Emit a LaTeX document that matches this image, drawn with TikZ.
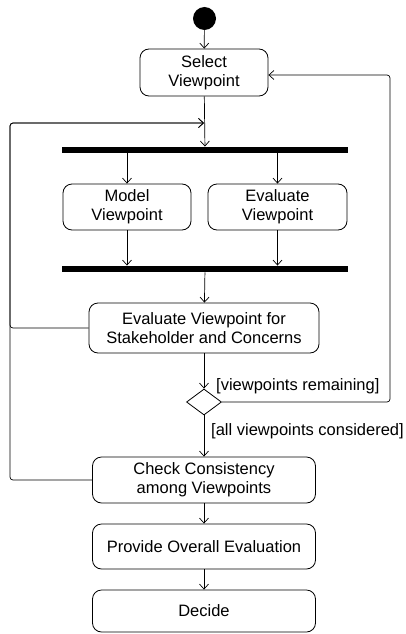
\documentclass[tikz,border=0pt]{standalone}
\usepackage{fontspec}
\setmainfont{Liberation Sans}
\usetikzlibrary{arrows.meta}
\usetikzlibrary{shapes.geometric}

\tikzset{
    act/.style={rectangle, rounded corners=9pt, draw, line width=0.8pt, align=center, inner sep=0pt, font=\fontsize{16.5}{19}\selectfont},
    bar/.style={rectangle, fill=black, inner sep=0pt, minimum width=286pt, minimum height=6.5pt},
    flow/.style={-{Straight Barb[length=5pt,width=9pt]}, line width=0.7pt},
    guard/.style={anchor=west, inner sep=0pt, font=\fontsize{16.5}{19}\selectfont}
}

\begin{document}
\begin{tikzpicture}[x=1pt, y=-1pt]
    \useasboundingbox (0,0) rectangle (406,634);

    \node[circle, fill, inner sep=0pt, minimum size=23pt] (start) at (204.5,18.5) {};
    \node[act, minimum width=128pt, minimum height=47pt] (select) at (204,72.5) {Select\\Viewpoint};
    \node[bar] (fork) at (205,150) {};
    \node[act, minimum width=128pt, minimum height=46pt] (model) at (127,207) {Model\\Viewpoint};
    \node[act, minimum width=139pt, minimum height=46pt] (evalvp) at (277.5,207) {Evaluate\\Viewpoint};
    \node[bar] (join) at (205,269) {};
    \node[act, minimum width=230pt, minimum height=50pt] (stake) at (204,328) {Evaluate Viewpoint for\\Stakeholder and Concerns};
    \node[diamond, draw, line width=0.8pt, inner sep=0pt, minimum width=35pt, minimum height=26pt] (choice) at (204,402) {};
    \node[act, minimum width=223pt, minimum height=46pt] (check) at (204,480) {Check Consistency\\among Viewpoints};
    \node[act, minimum width=223pt, minimum height=45pt] (overall) at (204,546.5) {Provide Overall Evaluation};
    \node[act, minimum width=223pt, minimum height=42pt] (decide) at (204,611) {Decide};

    \node[guard] (remaining) at (216,386) {[viewpoints remaining]};
    \node[guard] (considered) at (211,431) {[all viewpoints considered]};

    \coordinate (merge) at (204,123);
    \coordinate (lcorner) at (10,123);
    \coordinate (rcorner) at (390,75);

    \draw[flow] (start) -- (select);
    \draw[flow] (select) -- (fork);
    \draw[flow] (fork.south -| model.north) -- (model.north);
    \draw[flow] (fork.south -| evalvp.north) -- (evalvp.north);
    \draw[flow] (model.south) -- (model.south |- join.north);
    \draw[flow] (evalvp.south) -- (evalvp.south |- join.north);
    \draw[flow] (join) -- (stake);
    \draw[flow] (stake) -- (choice);
    \draw[flow] (choice) -- (check);
    \draw[flow] (check) -- (overall);
    \draw[flow] (overall) -- (decide);
    \draw[flow, rounded corners=3pt] (stake.west) -| (lcorner) -- (merge);
    \draw[flow, rounded corners=3pt] (check.west) -| (lcorner) -- (merge);
    \draw[flow, rounded corners=3pt] (choice.east) -| (rcorner) -- (select.east |- rcorner);
\end{tikzpicture}
\end{document}
